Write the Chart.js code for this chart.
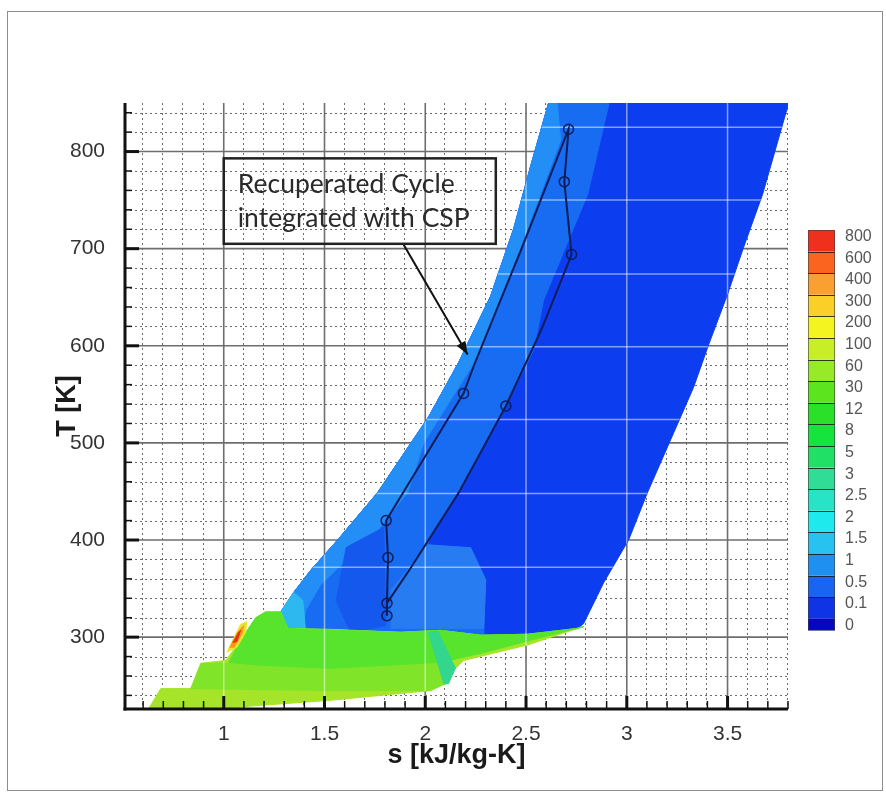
<!DOCTYPE html>
<html>
<head>
<meta charset="utf-8">
<script src="https://cdn.jsdelivr.net/npm/chart.js@4.4.1/dist/chart.umd.min.js"></script>
<style>
  html, body { margin: 0; padding: 0; background: #fff; }
  canvas { display: block; }
</style>
</head>
<body>
<canvas id="tsChart" width="886" height="794"></canvas>
<script>
// s in kJ/kg-K, T in K
const xTicks = [1, 1.5, 2, 2.5, 3, 3.5];
const yTicks = [300, 400, 500, 600, 700, 800];

// outer envelope of the map (lowest level, dark blue)
const envS = [2.627, 3.82, 3.674, 3.579, 3.50, 3.406, 3.331, 3.103, 3.009, 2.885, 2.786, 2.756, 2.508, 2.275, 1.382, 1.258, 1.283, 1.347, 1.432, 1.565, 1.764, 2.017, 2.166, 2.324, 2.438, 2.523, 2.627];
const envT = [861, 862, 756, 701, 653, 601, 557, 449, 400, 356, 314, 309, 297, 289, 289, 307, 326, 346, 369, 400, 449, 527, 583, 651, 720, 785, 861];

// 0.5 level
const midS = [2.627, 2.925, 2.806, 2.587, 2.538, 2.374, 2.161, 2.027, 2.012, 2.225, 2.30, 2.29, 2.29, 1.382, 1.258, 1.283, 1.347, 1.432, 1.565, 1.764, 2.017, 2.166, 2.324, 2.438, 2.523, 2.627];
const midT = [861, 861, 756, 647, 596, 527, 449, 405, 395, 392, 359, 309, 289, 289, 307, 326, 346, 369, 400, 449, 527, 583, 651, 720, 785, 861];

// 1 level strip along the high pressure side
const lightS = [1.258, 1.283, 1.347, 1.432, 1.565, 1.764, 2.017, 2.166, 2.324, 2.438, 2.523, 2.627, 2.65, 2.672, 2.473, 2.24, 1.992, 1.913, 1.804, 1.729, 1.605, 1.481, 1.407, 1.382];
const lightT = [307, 326, 346, 369, 400, 449, 527, 583, 651, 720, 785, 861, 861, 812, 702, 582, 500, 449, 421, 400, 379, 354, 328, 297];

// small patches in the low temperature part
const patchS = [1.605, 1.794, 1.804, 1.63, 1.556];
const patchT = [392, 413, 312, 305, 338];
const blobS = [1.828, 2.012, 2.225, 2.30, 2.29, 1.828];
const blobT = [348, 395, 392, 359, 309, 309];
const cyanS = [1.283, 1.347, 1.392, 1.407, 1.317];
const cyanT = [326, 346, 338, 305, 307];

// two-phase / liquid zone
const greenS = [0.615, 0.6875, 0.836, 0.886, 1.01, 1.084, 1.159, 1.208, 1.283, 1.317, 1.531, 1.878, 2.076, 2.275, 2.508, 2.756, 2.786, 2.508, 2.29, 2.19, 2.076, 2.027, 1.531, 1.134, 0.886, 0.615];
const greenT = [222, 247, 247, 273, 276, 297, 320, 326, 326, 309, 308, 305, 307, 302, 303, 309, 311, 292, 281, 276, 253, 245, 235, 229, 224, 222];
const greenMidS = [0.886, 2.076, 2.111, 2.027, 1.531, 0.836];
const greenMidT = [273, 274, 253, 245, 245, 247];
const bandS = [1.084, 1.159, 1.208, 1.283, 1.317, 1.878, 2.076, 2.275, 2.508, 2.756, 2.786, 2.508, 2.29, 2.076, 1.531, 1.184, 1.025, 1.084];
const bandT = [297, 320, 326, 326, 309, 305, 307, 302, 303, 309, 311, 296, 284, 274, 268, 271, 274, 297];
const tealS = [2.012, 2.062, 2.15, 2.115, 2.09];
const tealT = [305, 306, 268, 252, 252];

// hot spot near s = 1.05
const hotYS = [1.015, 1.045, 1.084, 1.114, 1.109, 1.064];
const hotYT = [284, 297, 313, 316, 305, 289];
const hotOS = [1.03, 1.069, 1.099, 1.089, 1.05];
const hotOT = [289, 305, 312, 303, 289];
const hotRS = [1.045, 1.074, 1.084, 1.064];
const hotRT = [294, 305, 307, 295];

// recuperated cycle
const cycleS = [1.81, 1.81, 1.815, 1.806, 2.19, 2.244, 2.478, 2.711, 2.69, 2.726, 2.577, 2.40, 2.164, 1.93, 1.81];
const cycleT = [322, 335, 382, 420, 551, 581, 700, 823, 769, 694, 617, 538, 448, 372, 335];
const stateS = [2.711, 2.69, 2.726, 2.40, 2.19, 1.806, 1.815, 1.81, 1.81];
const stateT = [823, 769, 694, 538, 551, 420, 382, 335, 322];

// white grid of the underlying map
const overlayGridT = [372, 448, 524, 599, 674, 750, 825];

// colour bar
const levelLabels = ['800', '600', '400', '300', '200', '100', '60', '30', '12', '8', '5', '3', '2.5', '2', '1.5', '1', '0.5', '0.1', '0'];
const levelColors = ['rgb(238,48,28)', 'rgb(250,100,30)', 'rgb(250,160,50)', 'rgb(250,208,40)', 'rgb(244,244,32)', 'rgb(200,238,40)', 'rgb(150,234,40)', 'rgb(92,228,30)', 'rgb(42,224,40)', 'rgb(22,228,62)', 'rgb(32,224,102)', 'rgb(48,220,150)', 'rgb(40,228,198)', 'rgb(30,234,238)', 'rgb(40,194,240)', 'rgb(30,145,240)', 'rgb(25,100,240)', 'rgb(15,52,230)', 'rgb(5,8,190)'];

function pts(sArr, tArr) {
    return sArr.map((s, i) => ({ x: s, y: tArr[i] }));
}

const layers = [
    { s: envS, t: envT, color: 'rgb(12,62,240)' },
    { s: midS, t: midT, color: 'rgb(24,108,242)' },
    { s: lightS, t: lightT, color: 'rgb(34,142,246)' },
    { s: patchS, t: patchT, color: 'rgb(20,88,238)' },
    { s: blobS, t: blobT, color: 'rgb(40,124,242)' },
    { s: cyanS, t: cyanT, color: 'rgb(45,185,240)' },
    { s: greenS, t: greenT, color: 'rgb(165,228,40)' },
    { s: greenMidS, t: greenMidT, color: 'rgb(128,228,40)' },
    { s: bandS, t: bandT, color: 'rgb(88,228,45)' },
    { s: tealS, t: tealT, color: 'rgb(50,214,140)' },
    { s: hotYS, t: hotYT, color: 'rgb(232,228,40)' },
    { s: hotOS, t: hotOT, color: 'rgb(250,150,30)' },
    { s: hotRS, t: hotRT, color: 'rgb(228,50,25)' }
];

const datasets = layers.map((l, i) => ({
    data: pts(l.s, l.t),
    backgroundColor: l.color,
    borderColor: l.color,
    borderWidth: 1,
    pointRadius: 0,
    tension: 0,
    fill: 'shape',
    order: layers.length - i + 2,
    lastFill: i === layers.length - 1
}));

datasets.push({
    data: pts(cycleS, cycleT),
    borderColor: '#101c58',
    borderWidth: 2,
    pointRadius: 0,
    tension: 0,
    fill: false,
    order: 1
});
datasets.push({
    data: pts(stateS, stateT),
    showLine: false,
    pointRadius: 5,
    pointBorderWidth: 1.5,
    pointBorderColor: '#101c58',
    pointBackgroundColor: 'rgba(0,0,0,0)',
    order: 0
});

function line(ctx, x1, y1, x2, y2) {
    ctx.beginPath();
    ctx.moveTo(x1, y1);
    ctx.lineTo(x2, y2);
    ctx.stroke();
}

function tracePath(ctx, sArr, tArr, px, py) {
    sArr.forEach((s, i) => {
        const X = px(s), Y = py(tArr[i]);
        if (i) ctx.lineTo(X, Y); else ctx.moveTo(X, Y);
    });
    ctx.closePath();
}

const background = {
    id: 'background',
    beforeDraw(chart) {
        const ctx = chart.ctx;
        ctx.save();
        ctx.fillStyle = '#fff';
        ctx.fillRect(0, 0, chart.width, chart.height);
        ctx.restore();
    }
};

// dotted minor grid and solid major grid, under the map
const gridLines = {
    id: 'gridLines',
    beforeDatasetsDraw(chart) {
        const { ctx, chartArea: { left, right, top, bottom } } = chart;
        const px = v => chart.scales.x.getPixelForValue(v);
        const py = v => chart.scales.y.getPixelForValue(v);
        ctx.save();
        ctx.beginPath();
        ctx.rect(left, top, right - left, bottom - top);
        ctx.clip();
        ctx.setLineDash([2, 3]);
        ctx.strokeStyle = 'rgba(60,60,60,0.75)';
        ctx.lineWidth = 1;
        for (let k = 6; k <= 38; k++) {
            if (k % 5 === 0) continue;
            const x = Math.round(px(k / 10)) - 0.5;
            line(ctx, x, top, x, bottom);
        }
        for (let t = 240; t <= 840; t += 20) {
            if (t % 100 === 0) continue;
            const y = Math.round(py(t)) + 0.5;
            line(ctx, left, y, right, y);
        }
        ctx.setLineDash([]);
        ctx.strokeStyle = 'rgb(110,110,110)';
        ctx.lineWidth = 1.6;
        xTicks.forEach(v => line(ctx, px(v), top, px(v), bottom));
        yTicks.forEach(v => line(ctx, left, py(v), right, py(v)));
        ctx.restore();
    },
    afterDatasetDraw(chart, args) {
        if (!chart.data.datasets[args.index].lastFill) return;
        const { ctx, chartArea: { left, right, top, bottom } } = chart;
        const px = v => chart.scales.x.getPixelForValue(v);
        const py = v => chart.scales.y.getPixelForValue(v);
        ctx.save();
        ctx.beginPath();
        ctx.rect(left, top, right - left, bottom - top);
        ctx.clip();
        ctx.beginPath();
        tracePath(ctx, envS, envT, px, py);
        tracePath(ctx, greenS, greenT, px, py);
        ctx.clip();
        ctx.strokeStyle = 'rgba(255,255,255,0.5)';
        ctx.lineWidth = 1.5;
        xTicks.forEach(v => line(ctx, px(v), top, px(v), bottom));
        overlayGridT.forEach(v => line(ctx, left, py(v), right, py(v)));
        ctx.restore();
    }
};

const decorations = {
    id: 'decorations',
    afterDatasetsDraw(chart) {
        const { ctx, chartArea: { left, right, top, bottom } } = chart;
        const px = v => chart.scales.x.getPixelForValue(v);
        const py = v => chart.scales.y.getPixelForValue(v);
        ctx.save();

        // axis lines and inward ticks
        ctx.strokeStyle = '#111';
        ctx.lineWidth = 3;
        line(ctx, left, top, left, bottom + 1.5);
        line(ctx, left - 1.5, bottom, right, bottom);
        for (let k = 6; k <= 38; k++) {
            const major = k % 5 === 0;
            ctx.lineWidth = major ? 3 : 1.5;
            const x = px(k / 10);
            line(ctx, x, bottom, x, bottom - (major ? 13 : 8));
        }
        for (let t = 240; t <= 840; t += 20) {
            const major = t % 100 === 0;
            ctx.lineWidth = major ? 3 : 1.5;
            const y = py(t);
            line(ctx, left, y, left + (major ? 14 : 7), y);
        }

        // axis titles
        ctx.fillStyle = '#1a1a1a';
        ctx.font = 'bold 27px "Liberation Sans", Arial, sans-serif';
        ctx.textAlign = 'center';
        ctx.textBaseline = 'middle';
        ctx.fillText('s [kJ/kg-K]', (left + right) / 2, 756);
        ctx.save();
        ctx.translate(68, (top + bottom) / 2);
        ctx.rotate(-Math.PI / 2);
        ctx.fillText('T [K]', 0, 0);
        ctx.restore();

        // annotation box and arrow
        const bx0 = px(1.0), bx1 = px(2.35), by0 = py(793), by1 = py(705);
        ctx.strokeStyle = '#222';
        ctx.lineWidth = 2.5;
        ctx.strokeRect(bx0, by0, bx1 - bx0, by1 - by0);
        ctx.fillStyle = '#2a2a2a';
        ctx.font = '26.5px Lato, "Open Sans", sans-serif';
        ctx.textAlign = 'left';
        ctx.textBaseline = 'alphabetic';
        ctx.fillText('Recuperated Cycle', bx0 + 14, by0 + 35);
        ctx.fillText('integrated with CSP', bx0 + 14, by0 + 69);
        const ax0 = px(1.893), ay0 = py(704), ax1 = px(2.21), ay1 = py(591);
        ctx.lineWidth = 2;
        ctx.strokeStyle = '#111';
        line(ctx, ax0, ay0, ax1, ay1);
        const ang = Math.atan2(ay1 - ay0, ax1 - ax0);
        ctx.fillStyle = '#111';
        ctx.beginPath();
        ctx.moveTo(ax1, ay1);
        ctx.lineTo(ax1 - 13 * Math.cos(ang) + 5 * Math.sin(ang), ay1 - 13 * Math.sin(ang) - 5 * Math.cos(ang));
        ctx.lineTo(ax1 - 13 * Math.cos(ang) - 5 * Math.sin(ang), ay1 - 13 * Math.sin(ang) + 5 * Math.cos(ang));
        ctx.closePath();
        ctx.fill();

        // colour bar
        const barX = 808, barW = 27, barTop = 230, bandH = 21.6;
        levelColors.forEach((c, i) => {
            const h = i === levelColors.length - 1 ? 11.5 : bandH;
            ctx.fillStyle = c;
            ctx.fillRect(barX, barTop + i * bandH, barW, h);
        });
        ctx.strokeStyle = 'rgba(25,25,25,0.85)';
        ctx.lineWidth = 1;
        for (let i = 1; i < levelColors.length; i++) {
            const y = Math.round(barTop + i * bandH) + 0.5;
            line(ctx, barX, y, barX + barW, y);
        }
        ctx.strokeStyle = 'rgba(60,60,60,0.6)';
        ctx.strokeRect(barX + 0.5, barTop + 0.5, barW - 1, (levelColors.length - 1) * bandH + 11);
        ctx.fillStyle = '#555';
        ctx.font = '16px "Liberation Sans", Arial, sans-serif';
        ctx.textBaseline = 'middle';
        levelLabels.forEach((lab, i) => ctx.fillText(lab, 845, barTop + i * bandH + 6.5));

        // picture frame
        ctx.strokeStyle = '#8c8c8c';
        ctx.lineWidth = 1;
        ctx.strokeRect(7.5, 11.5, 875, 779);
        ctx.restore();
    }
};

const tickFont = { family: '"Liberation Sans", Arial, sans-serif', size: 21 };

new Chart(document.getElementById('tsChart').getContext('2d'), {
    type: 'line',
    data: { datasets },
    options: {
        responsive: false,
        animation: false,
        events: [],
        layout: { padding: { left: 0, top: 103, right: 98, bottom: 0 } },
        plugins: { legend: { display: false }, tooltip: { enabled: false } },
        scales: {
            x: {
                type: 'linear',
                min: 0.51,
                max: 3.8,
                grid: { display: false },
                border: { display: false },
                afterBuildTicks: scale => { scale.ticks = xTicks.map(v => ({ value: v })); },
                afterFit: scale => { scale.height = 85; },
                ticks: { font: tickFont, color: '#333', padding: 5, maxRotation: 0, autoSkip: false, callback: v => String(v) }
            },
            y: {
                type: 'linear',
                min: 226,
                max: 850,
                grid: { display: false },
                border: { display: false },
                afterBuildTicks: scale => { scale.ticks = yTicks.map(v => ({ value: v })); },
                afterFit: scale => { scale.width = 125; },
                ticks: { font: tickFont, color: '#333', padding: 12, autoSkip: false, callback: v => String(v) }
            }
        }
    },
    plugins: [background, gridLines, decorations]
});
</script>
</body>
</html>
